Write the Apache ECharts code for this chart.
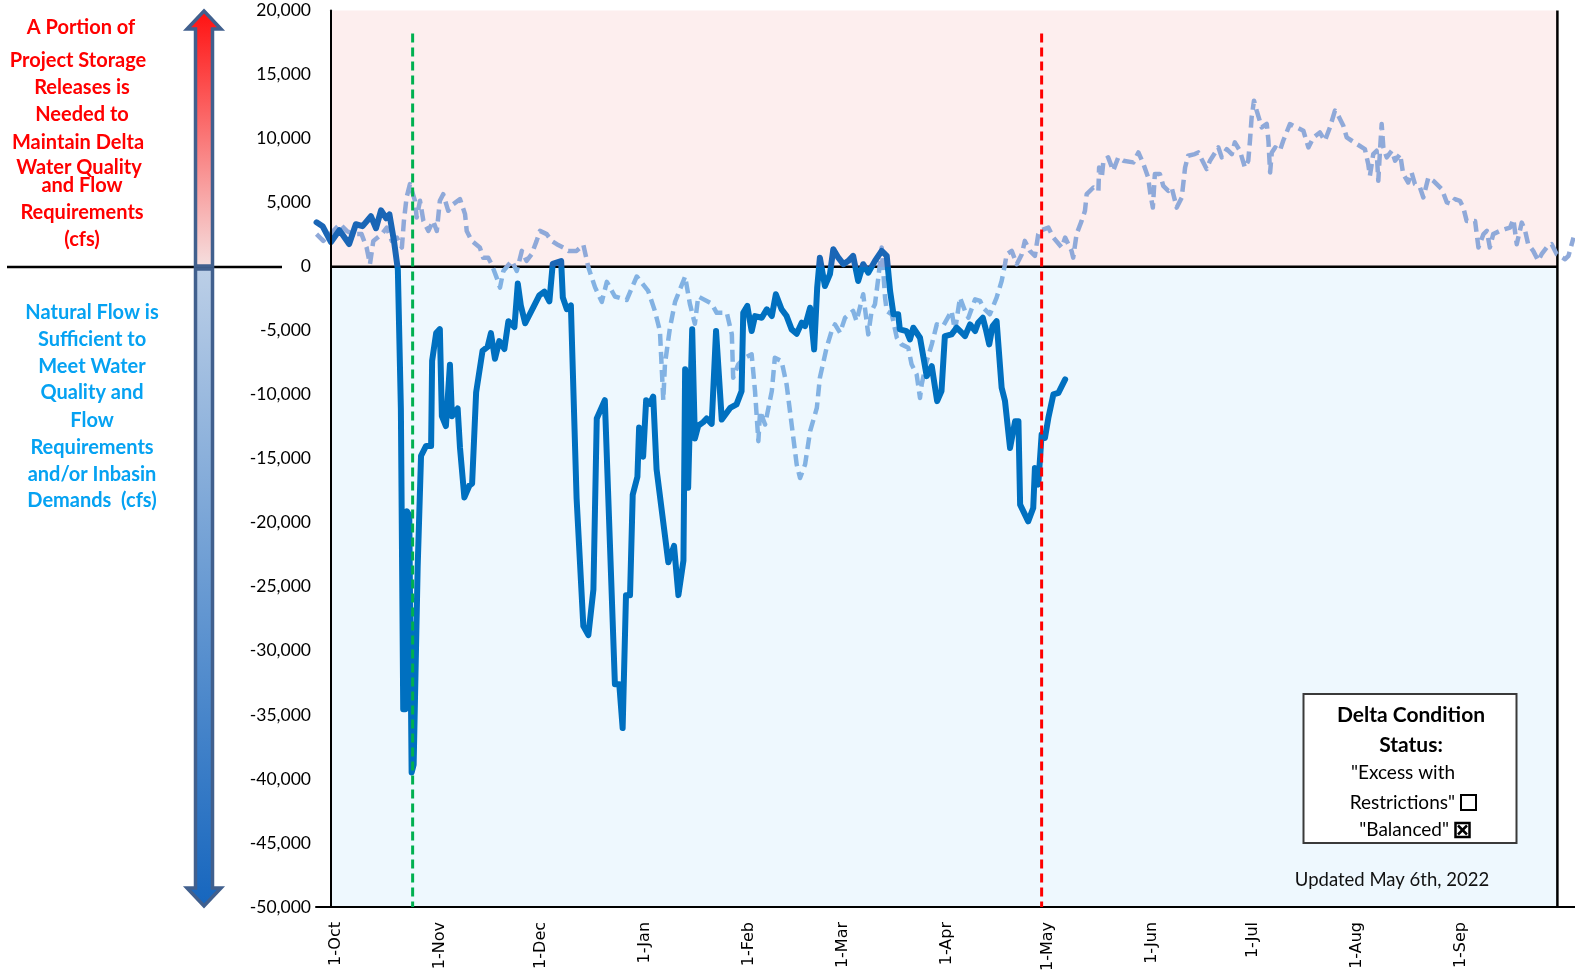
<!DOCTYPE html>
<html>
<head>
<meta charset="utf-8">
<script src="https://cdn.jsdelivr.net/npm/echarts@6/dist/echarts.min.js"></script>
<style>
html,body{margin:0;padding:0;background:#fff;}
#chart{width:1575px;height:974px;}
</style>
</head>
<body>
<div id="chart"></div>
<script>
// x = days since 1-Oct, y = cfs
const xTickDays = [0, 31, 61, 92, 123, 151, 182, 212, 243, 273, 304, 335];
const xTickLabels = ['1-Oct','1-Nov','1-Dec','1-Jan','1-Feb','1-Mar','1-Apr','1-May','1-Jun','1-Jul','1-Aug','1-Sep'];
const yMin = -50000, yMax = 20000, yStep = 5000;

// current water year (solid)
const currentYear = [
[-4.3,3460],[-2.5,3160],[0,1920],[2.5,2850],[5.4,1770],[7.4,3310],[9.4,3160],[11.9,3930],[13.4,3000],[14.9,4400],
[16.4,3780],[17.4,4080],[18.8,1920],[19.9,-240],[20.8,-11070],[21.5,-34560],[22.1,-34560],[22.6,-19100],[23.3,-19410],[24.0,-39500],
[24.6,-38890],[25.8,-23430],[26.8,-14770],[28.3,-14000],[29.8,-14000],[30.1,-7350],[31.3,-5190],[32.4,-4880],[33.0,-11680],[34.2,-12450],
[35.4,-7660],[36.0,-11680],[37.7,-11070],[38.4,-14160],[39.7,-18020],[41.2,-17090],[42.0,-16940],[43.2,-9820],[45.1,-6580],[46.6,-6270],
[47.6,-5190],[48.8,-7200],[50.1,-5810],[51.6,-6430],[52.8,-4260],[54.6,-4720],[55.6,-1320],[56.5,-3030],[57.8,-4420],[60.5,-3030],
[62.0,-2250],[63.5,-1950],[65.0,-2710],[66.0,220],[68.5,440],[69.0,-2410],[70.2,-3330],[71.4,-3030],[73.1,-18110],[75.1,-28060],
[76.6,-28770],[78.1,-25220],[79.1,-11860],[81.5,-10430],[84.5,-32610],[85.8,-32610],[86.8,-36030],[87.8,-25650],[89.0,-25650],[89.8,-17820],
[91.2,-16410],[91.7,-12570],[92.9,-14840],[93.8,-10430],[94.9,-10710],[95.9,-10150],[96.9,-15840],[100.4,-23090],[102.1,-21810],[103.4,-25650],
[104.9,-22950],[105.4,-8020],[106.3,-17260],[107.5,-4890],[108.3,-13420],[109.3,-12420],[110.8,-12140],[111.8,-11860],[113.3,-12280],[114.6,-5030],
[116.3,-11940],[118.8,-11030],[120.7,-10760],[122.2,-9720],[122.7,-3600],[123.9,-3070],[125.2,-5030],[126.2,-3860],[128.2,-3990],[129.7,-3330],
[131.2,-3860],[132.4,-2160],[134.1,-3330],[135.6,-3860],[137.1,-4900],[138.6,-5240],[140.1,-4380],[141.1,-4640],[142.6,-3210],[143.8,-6460],
[144.7,-1640],[145.5,700],[147.0,-1510],[148.5,-590],[149.5,1360],[151.0,700],[152.5,190],[154.0,450],[155.4,840],[156.9,-1120],
[158.4,190],[159.9,-470],[161.9,450],[163.9,1230],[165.4,840],[166.4,-1900],[167.4,-3720],[168.8,-3720],[169.3,-4900],[171.3,-5030],
[172.3,-5680],[173.3,-4770],[175.3,-5550],[177.3,-8550],[178.8,-7770],[180.4,-10500],[181.7,-9720],[182.7,-5420],[184.7,-5290],[186.2,-4770],
[187.7,-5160],[188.7,-5420],[190.2,-4510],[191.7,-5030],[192.6,-4380],[194.0,-3990],[194.9,-4900],[195.9,-6070],[196.9,-4640],[198.1,-4250],
[199.6,-9460],[200.6,-10500],[202.1,-14160],[203.6,-12070],[204.6,-12070],[205.1,-18580],[207.5,-19890],[209.0,-18850],[209.5,-15720],[210.5,-17020],
[211.5,-13110],[212.5,-13370],[213.5,-11810],[215.0,-9980],[216.5,-9850],[218.5,-8810]
];

// prior water year (dashed)
const priorYear = [
[-4.3,2540],[-2.3,2010],[0.7,2790],[2.7,3320],[4.7,2790],[6.6,2540],[9.1,2540],[10.6,1490],[11.6,190],[12.6,2010],
[15.1,2540],[16.6,3050],[18.1,2010],[19.6,2270],[21.1,1490],[21.7,3570],[22.5,5400],[23.5,6440],[25.0,5140],[25.5,3830],
[26.5,5140],[27.5,3570],[29.0,2790],[30.4,3570],[31.5,2790],[32.4,5140],[33.4,5660],[34.9,4360],[36.4,4880],[38.4,5270],
[39.9,4100],[40.4,2790],[41.9,2010],[44.3,1490],[45.3,700],[46.8,700],[47.8,190],[49.3,-860],[50.3,-1640],[51.3,-340],
[53.8,450],[55.3,-340],[56.8,1230],[58.2,450],[59.7,970],[61.2,2010],[62.2,2790],[64.2,2540],[65.7,2010],[67.2,1750],
[69.1,1490],[70.6,1230],[73.1,1230],[75.1,1700],[76.6,-50],[78.6,-1620],[80.6,-2750],[82.1,-1190],[84.5,-2330],[88.0,-2610],
[91.0,-770],[94.4,-1900],[96.4,-3460],[97.9,-5030],[98.9,-10430],[99.4,-7590],[100.9,-4750],[102.4,-2750],[105.4,-770],[106.8,-2890],
[108.3,-4460],[109.3,-2330],[113.3,-2890],[114.8,-3610],[117.8,-3600],[119.3,-5290],[119.7,-8680],[121.2,-7630],[123.2,-7120],[125.2,-6850],
[126.2,-9720],[127.2,-13630],[127.7,-11290],[129.2,-12330],[131.2,-9720],[132.1,-7120],[134.1,-7380],[135.6,-9200],[137.1,-12330],[138.6,-15450],
[139.6,-16500],[141.1,-15450],[142.6,-12850],[144.6,-11030],[145.5,-8680],[147.5,-6330],[149.0,-5030],[150.0,-4510],[151.5,-5160],[153.0,-3990],
[155.4,-3460],[156.4,-4250],[158.4,-2160],[158.9,-3210],[159.9,-5290],[160.9,-3460],[161.9,-2940],[162.9,-860],[163.9,1490],[164.9,-2420],
[165.4,-3460],[166.9,-3720],[168.4,-5550],[169.8,-6070],[171.8,-6330],[172.8,-7630],[174.3,-8420],[175.3,-10250],[175.8,-9200],[177.3,-7380],
[178.8,-6070],[180.3,-4510],[182.2,-4640],[184.7,-3460],[185.7,-5030],[187.2,-2420],[188.7,-3460],[189.7,-3990],[191.7,-2550],[193.2,-2680],
[194.1,-3210],[196.1,-3720],[198.1,-2420],[199.6,-1120],[200.6,190],[201.1,970],[202.6,1230],[204.1,190],[205.6,970],[206.5,2010],
[208.0,1230],[209.5,840],[210.5,2540],[211.0,2790],[213.5,3050],[215.0,2270],[217.5,1490],[218.5,2270],[220.4,1230],[220.9,700],
[221.9,2540],[223.4,3570],[224.4,4360],[224.9,5660],[226.9,6180],[228.4,5920],[228.6,7740],[229.4,6960],[229.9,8270],[231.3,8530],
[232.8,7490],[234.3,8530],[235.8,8270],[238.8,8140],[240.3,8920],[241.8,8010],[243.2,6960],[243.8,5790],[244.6,4610],[245.2,7230],
[246.7,7230],[247.7,6310],[249.2,5920],[250.2,6180],[251.7,4610],[253.2,5400],[254.2,7740],[255.1,8660],[257.1,8790],[258.1,8920],
[260.6,7620],[261.6,8270],[264.1,9310],[265.1,8530],[266.6,9180],[268.1,8790],[269.0,9700],[270.5,9050],[272.0,7740],[273.0,8270],
[273.5,9830],[274.0,11650],[274.7,12960],[275.5,12180],[277.0,10870],[278.5,11140],[279.0,9830],[279.5,7350],[280.0,8920],[281.0,9310],
[282.4,9050],[283.4,9830],[285.4,11140],[287.4,10870],[289.4,10610],[290.9,9310],[292.4,10090],[294.3,10480],[295.8,9830],[297.3,10870],
[298.8,12180],[299.8,11790],[301.3,11000],[302.3,10090],[305.3,9570],[307.7,9180],[308.7,8010],[309.2,7090],[310.2,8790],[311.2,9050],
[311.7,6700],[312.2,9050],[312.7,11140],[313.2,9310],[314.2,8530],[315.7,9050],[316.7,8270],[318.2,8790],[319.1,7230],[320.6,6570],
[321.6,7350],[322.6,6440],[324.1,6180],[325.1,5400],[326.6,6960],[328.1,6700],[330.6,6050],[332.1,5010],[333.5,4880],[334.5,5270],
[336.0,5140],[337.0,4610],[338.0,3570],[340.5,3570],[341.5,1490],[343.0,2540],[344.0,2790],[344.9,1490],[345.9,2540],[347.9,2790],
[349.4,2920],[350.9,3050],[351.9,3700],[352.9,1750],[354.4,3440],[355.4,2790],[356.3,1750],[357.8,1230],[359.3,450],[360.3,970],
[361.8,1490],[363.3,1750],[364.8,970],[367.3,580],[368.3,840],[369.8,2270]
];

const yearEndDay = 365;
const greenLineDay = 24.3;
const redLineDay = 211.5;
const markerTop = 18200;

const chart = echarts.init(document.getElementById('chart'), null, {renderer: 'canvas'});

const redLines = [
  ['A Portion of', 81, 28], ['Project Storage', 78, 60.5], ['Releases is', 82, 88], ['Needed to', 82, 115],
  ['Maintain Delta', 78, 142.5], ['Water Quality', 79, 168], ['and Flow', 82, 186], ['Requirements', 82, 213], ['(cfs)', 82, 240]
];
const blueLines = [
  ['Natural Flow is', 92, 313], ['Sufficient to', 92, 340], ['Meet Water', 92, 367], ['Quality and', 92, 393],
  ['Flow', 92, 421], ['Requirements', 92, 448], ['and/or Inbasin', 92, 475], ['Demands  (cfs)', 92, 501]
];

const graphics = [];
graphics.push({type: 'line', z: 100, shape: {x1: 7, y1: 267, x2: 282, y2: 267}, style: {stroke: '#000', lineWidth: 2.5}});
graphics.push({type: 'polygon', z: 100, shape: {points: [[204, 11], [221, 29], [212.5, 29], [212.5, 266], [195.5, 266], [195.5, 29], [187, 29]]},
  style: {stroke: '#41608E', lineWidth: 3.5, lineJoin: 'miter',
    fill: new echarts.graphic.LinearGradient(0, 0, 0, 1, [{offset: 0, color: '#FF1010'}, {offset: 1, color: '#F5E0E0'}])}});
graphics.push({type: 'polygon', z: 100, shape: {points: [[195.5, 269], [212.5, 269], [212.5, 888], [221, 888], [204, 906], [187, 888], [195.5, 888]]},
  style: {stroke: '#41608E', lineWidth: 3.5, lineJoin: 'miter',
    fill: new echarts.graphic.LinearGradient(0, 0, 0, 1, [{offset: 0, color: '#BCCFE7'}, {offset: 1, color: '#1666BE'}])}});
redLines.forEach(function (l) {
  graphics.push({type: 'text', z: 100, style: {text: l[0], x: l[1], y: l[2], align: 'center', verticalAlign: 'middle',
    font: 'bold 20px Lato', fill: '#FF0000'}});
});
blueLines.forEach(function (l) {
  graphics.push({type: 'text', z: 100, style: {text: l[0], x: l[1], y: l[2], align: 'center', verticalAlign: 'middle',
    font: 'bold 20px Lato', fill: '#05A2F2'}});
});
// status box
graphics.push({type: 'rect', z: 100, shape: {x: 1303.5, y: 694, width: 213, height: 149}, style: {stroke: '#3A3A3A', lineWidth: 2, fill: '#FFFFFF'}});
graphics.push({type: 'text', z: 101, style: {text: 'Delta Condition', x: 1411, y: 715, align: 'center', verticalAlign: 'middle', font: 'bold 21px Lato', fill: '#000'}});
graphics.push({type: 'text', z: 101, style: {text: 'Status:', x: 1411, y: 745, align: 'center', verticalAlign: 'middle', font: 'bold 21px Lato', fill: '#000'}});
graphics.push({type: 'text', z: 101, style: {text: '"Excess with', x: 1403, y: 773, align: 'center', verticalAlign: 'middle', font: '19px Lato', fill: '#000'}});
graphics.push({type: 'text', z: 101, style: {text: 'Restrictions"', x: 1455, y: 803, align: 'right', verticalAlign: 'middle', font: '19px Lato', fill: '#000'}});
graphics.push({type: 'rect', z: 101, shape: {x: 1461, y: 795, width: 15, height: 15}, style: {stroke: '#000', lineWidth: 2, fill: '#fff'}});
graphics.push({type: 'text', z: 101, style: {text: '"Balanced"', x: 1449, y: 830, align: 'right', verticalAlign: 'middle', font: '19px Lato', fill: '#000'}});
graphics.push({type: 'rect', z: 101, shape: {x: 1455.5, y: 823, width: 14, height: 14}, style: {stroke: '#000', lineWidth: 2.5, fill: '#fff'}});
graphics.push({type: 'line', z: 102, shape: {x1: 1458, y1: 825.5, x2: 1467, y2: 834.5}, style: {stroke: '#000', lineWidth: 2.5}});
graphics.push({type: 'line', z: 102, shape: {x1: 1467, y1: 825.5, x2: 1458, y2: 834.5}, style: {stroke: '#000', lineWidth: 2.5}});
graphics.push({type: 'text', z: 101, style: {text: 'Updated May 6th, 2022', x: 1392, y: 880, align: 'center', verticalAlign: 'middle', font: '18.5px Lato', fill: '#111'}});

function splitColor(zeroY, above, below) {
  const f = zeroY / 974;
  return new echarts.graphic.LinearGradient(0, 0, 0, 974, [
    {offset: 0, color: above}, {offset: f, color: above},
    {offset: f, color: below}, {offset: 1, color: below}
  ], true);
}

const option = {
  animation: false,
  backgroundColor: '#ffffff',
  grid: {left: 316, right: 0, top: 10.5, bottom: 66, containLabel: false},
  xAxis: {
    type: 'value', min: -4.46, max: 370.24, z: 5,
    axisLine: {show: true, onZero: false, lineStyle: {color: '#000', width: 2}},
    axisTick: {show: false},
    splitLine: {show: false},
    axisLabel: {
      customValues: xTickDays, rotate: 90, margin: 15, verticalAlign: 'top', lineHeight: 9,
      fontFamily: 'DejaVu Sans', fontSize: 16, color: '#000',
      formatter: function (v) { const i = xTickDays.indexOf(Math.round(v)); return i >= 0 ? xTickLabels[i] : ''; }
    }
  },
  yAxis: {
    type: 'value', min: yMin, max: yMax, interval: yStep, z: 5,
    axisLine: {show: true, lineStyle: {color: '#000', width: 2}},
    axisTick: {show: false},
    splitLine: {show: false},
    axisLabel: {margin: 5, fontFamily: 'Lato', fontSize: 17.5, color: '#000',
      formatter: function (v) { return v.toLocaleString('en-US'); }}
  },
  series: [
    {
      name: 'bg', type: 'line', z: 0, data: [[0, 0]], symbol: 'none', silent: true,
      lineStyle: {opacity: 0},
      markArea: {silent: true, data: [
        [{coord: [0, yMax], itemStyle: {color: '#FDEEEE'}}, {coord: [yearEndDay, 0]}],
        [{coord: [0, 0], itemStyle: {color: '#EEF8FE'}}, {coord: [yearEndDay, yMin]}]
      ]}
    },
    {
      name: 'Prior year', type: 'line', z: 3, data: priorYear, showSymbol: false, symbol: 'none', silent: true,
      lineStyle: {width: 4.5, color: '#8FA9D9', type: [12, 6], cap: 'butt', join: 'round'}
    },
    {
      name: 'Current year', type: 'line', z: 4, data: currentYear, showSymbol: false, symbol: 'none', silent: true,
      lineStyle: {width: 6, color: '#0070C0', cap: 'round', join: 'round'}
    },
    {
      name: 'zero', type: 'line', z: 2, data: [[0, 0], [yearEndDay, 0]], symbol: 'none', silent: true,
      lineStyle: {color: '#000', width: 2.5}
    },
    {
      name: 'yearEnd', type: 'line', z: 2, data: [[yearEndDay, yMax], [yearEndDay, yMin]], symbol: 'none', silent: true,
      lineStyle: {color: '#000', width: 2.5}
    },
    {
      name: 'green', type: 'line', z: 6, data: [[greenLineDay, markerTop], [greenLineDay, yMin]], symbol: 'none', silent: true,
      lineStyle: {color: '#00B050', width: 3, type: [9, 5]}
    },
    {
      name: 'red', type: 'line', z: 6, data: [[redLineDay, markerTop], [redLineDay, yMin]], symbol: 'none', silent: true,
      lineStyle: {color: '#FF0000', width: 3, type: [9, 5]}
    }
  ],
  graphic: graphics
};
chart.setOption(option);
const zeroY = chart.convertToPixel({gridIndex: 0}, [0, 0])[1];
chart.setOption({series: [
  {},
  {lineStyle: {color: splitColor(zeroY, '#8FA9D9', '#82B2E3')}},
  {lineStyle: {color: splitColor(zeroY, '#1A66B6', '#0070C0')}}
]});
</script>
</body>
</html>
